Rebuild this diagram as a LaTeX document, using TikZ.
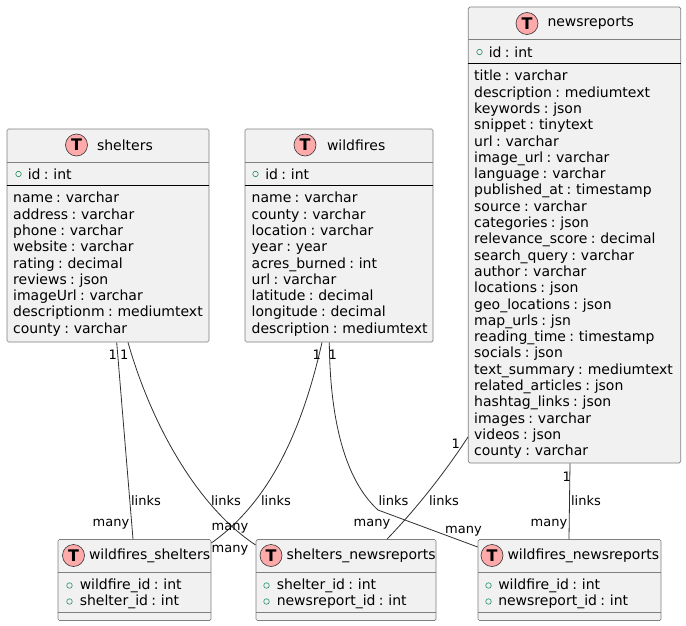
\documentclass[tikz,border=0pt]{standalone}
\usepackage{fontspec}
\setmainfont[WordSpace=0.75]{DejaVu Sans}
\definecolor{fondo}{HTML}{F1F1F1}
\definecolor{rosa}{HTML}{FFAAAA}
\definecolor{verde}{HTML}{1C8A5A}
\definecolor{borde}{HTML}{7F7F7F}
\definecolor{linea}{HTML}{303030}
\usetikzlibrary{positioning,calc}

\begin{document}
\begin{tikzpicture}[
  x=1pt, y=-1pt,
  tabla/.style={rectangle, rounded corners=1.5pt, draw=borde, line width=0.7pt, fill=fondo, inner sep=0pt},
  icono/.style={circle, draw=black!80, line width=0.6pt, fill=rosa, minimum size=22pt, inner sep=0pt, font=\fontsize{16}{16}\selectfont\bfseries},
  titulo/.style={anchor=west, inner sep=0pt, font=\fontsize{14}{16}\selectfont},
  campos/.style={anchor=north west, inner sep=0pt, align=left, font=\fontsize{14}{16.3}\selectfont},
  pk/.style={circle, draw=verde, line width=0.6pt, minimum size=5.5pt, inner sep=0pt},
  sep/.style={draw=borde, line width=0.7pt},
  sepn/.style={draw=black, line width=0.8pt},
  rel/.style={draw=linea, line width=0.8pt},
  etq/.style={inner sep=0pt, font=\fontsize{13}{15}\selectfont}
]
\useasboundingbox (0,0) rectangle (686,626);
% tablas grandes
\node[tabla, minimum width=202pt, minimum height=213pt] (shelters) at (108,235.5) {};
\node[tabla, minimum width=188pt, minimum height=213pt] (wildfires) at (339,235.5) {};
\node[tabla, minimum width=212.4pt, minimum height=456pt] (newsreports) at (574.5,235) {};
\node[tabla, minimum width=153pt, minimum height=81pt] (wildshel) at (134.5,580) {};
\node[tabla, minimum width=180pt, minimum height=81pt] (shelnews) at (346,580) {};
\node[tabla, minimum width=183pt, minimum height=81pt] (wildnews) at (569.5,580) {};
% separadores
\draw[sep] (shelters.west |- 0,162) -- (shelters.east |- 0,162);
\draw[sepn] (shelters.west |- 0,185.5) -- (shelters.east |- 0,185.5);
\draw[sep] (wildfires.west |- 0,162) -- (wildfires.east |- 0,162);
\draw[sepn] (wildfires.west |- 0,185.5) -- (wildfires.east |- 0,185.5);
\draw[sep] (newsreports.west |- 0,39.5) -- (newsreports.east |- 0,39.5);
\draw[sepn] (newsreports.west |- 0,63.5) -- (newsreports.east |- 0,63.5);
\draw[sep] (wildshel.west |- 0,572) -- (wildshel.east |- 0,572);
\draw[sep] (wildshel.west |- 0,612) -- (wildshel.east |- 0,612);
\draw[sep] (shelnews.west |- 0,572) -- (shelnews.east |- 0,572);
\draw[sep] (shelnews.west |- 0,612) -- (shelnews.east |- 0,612);
\draw[sep] (wildnews.west |- 0,572) -- (wildnews.east |- 0,572);
\draw[sep] (wildnews.west |- 0,612) -- (wildnews.east |- 0,612);
% iconos y titulos
\node[icono] (ic1) at (76.5,145) {T};
\node[titulo, right=9pt of ic1] (t1) {shelters};
\node[icono] (ic2) at (305,145) {T};
\node[titulo, right=10.5pt of ic2] (t2) {wildfires};
\node[icono] (ic3) at (527,23.5) {T};
\node[titulo, right=9pt of ic3] (t3) {newsreports};
\node[icono] (ic4) at (73.5,555.5) {T};
\node[titulo, right=4pt of ic4] (t4) {wildfires\_shelters};
\node[icono] (ic5) at (271,555.5) {T};
\node[titulo, right=4pt of ic5] (t5) {shelters\_newsreports};
\node[icono] (ic6) at (492,555.5) {T};
\node[titulo, right=4pt of ic6] (t6) {wildfires\_newsreports};
% campos
\node[pk] (p1) at (18.5,174) {};
\node[titulo, right=6pt of p1] (id1) {id : int};
\node[campos] (c1) at (13,192) {name : varchar\\address : varchar\\phone : varchar\\website : varchar\\rating : decimal\\reviews : json\\imageUrl : varchar\\descriptionm : mediumtext\\county : varchar};
\node[pk] (p2) at (255.5,174) {};
\node[titulo, right=6.5pt of p2] (id2) {id : int};
\node[campos] (c2) at (251.5,192) {name : varchar\\county : varchar\\location : varchar\\year : year\\acres\_burned : int\\url : varchar\\latitude : decimal\\longitude : decimal\\description : mediumtext};
\node[pk] (p3) at (479.5,52) {};
\node[titulo, right=6pt of p3] (id3) {id : int};
\node[campos] (c3) at (474,70) {title : varchar\\description : mediumtext\\keywords : json\\snippet : tinytext\\url : varchar\\image\_url : varchar\\language : varchar\\published\_at : timestamp\\source : varchar\\categories : json\\relevance\_score : decimal\\search\_query : varchar\\author : varchar\\locations : json\\geo\_locations : json\\map\_urls : jsn\\reading\_time : timestamp\\socials : json\\text\_summary : mediumtext\\related\_articles : json\\hashtag\_links : json\\images : varchar\\videos : json\\county : varchar};
\node[pk] (p4a) at (69.5,585.5) {};
\node[titulo, right=7pt of p4a] (f4a) {wildfire\_id : int};
\node[pk] (p4b) at (69.5,601.5) {};
\node[titulo, right=7pt of p4b] (f4b) {shelter\_id : int};
\node[pk] (p5a) at (266.5,585.5) {};
\node[titulo, right=7pt of p5a] (f5a) {shelter\_id : int};
\node[pk] (p5b) at (266.5,601.5) {};
\node[titulo, right=7pt of p5b] (f5b) {newsreport\_id : int};
\node[pk] (p6a) at (488.5,585.5) {};
\node[titulo, right=6.5pt of p6a] (f6a) {wildfire\_id : int};
\node[pk] (p6b) at (488.5,601.5) {};
\node[titulo, right=6.5pt of p6b] (f6b) {newsreport\_id : int};
% relaciones
\draw[rel] ([xshift=8.7pt]shelters.south) -- ([xshift=-1.5pt]wildshel.north);
\draw[rel] ([xshift=20pt]shelters.south) .. controls (150,420) and (195,505) .. (shelnews.west |- 0,545);
\draw[rel] ([xshift=-17pt]wildfires.south) .. controls (300,440) and (265,505) .. (wildshel.east |- 0,543);
\draw[rel] ([xshift=-9.7pt]wildfires.south) .. controls (330,420) and (345,480) .. (378,510) -- (wildnews.west |- 0,547);
\draw[rel] (newsreports.west |- 0,437) .. controls (450,465) and (420,505) .. ([xshift=41pt]shelnews.north);
\draw[rel] ([xshift=-4.5pt]newsreports.south) -- ([xshift=-0.5pt]wildnews.north);
% etiquetas
\node[etq] (e1) at (112.7,355) {1};
\node[etq] (e2) at (124.3,355) {1};
\node[etq] (e3) at (316.7,355) {1};
\node[etq] (e4) at (332.7,355) {1};
\node[etq] (e5) at (455.7,444) {1};
\node[etq] (e6) at (566.7,477) {1};
\node[etq] (l1) at (146,500.5) {links};
\node[etq] (l2) at (226,500.5) {links};
\node[etq] (l3) at (276,500.5) {links};
\node[etq] (l4) at (393.5,500.5) {links};
\node[etq] (l5) at (444,500.5) {links};
\node[etq] (l6) at (586,500.5) {links};
\node[etq] (m1) at (111,524) {many};
\node[etq] (m2) at (230,528) {many};
\node[etq] (m3) at (230,550) {many};
\node[etq] (m4) at (372,524) {many};
\node[etq] (m5) at (463.5,531) {many};
\node[etq] (m6) at (549,524) {many};
\end{tikzpicture}
\end{document}
